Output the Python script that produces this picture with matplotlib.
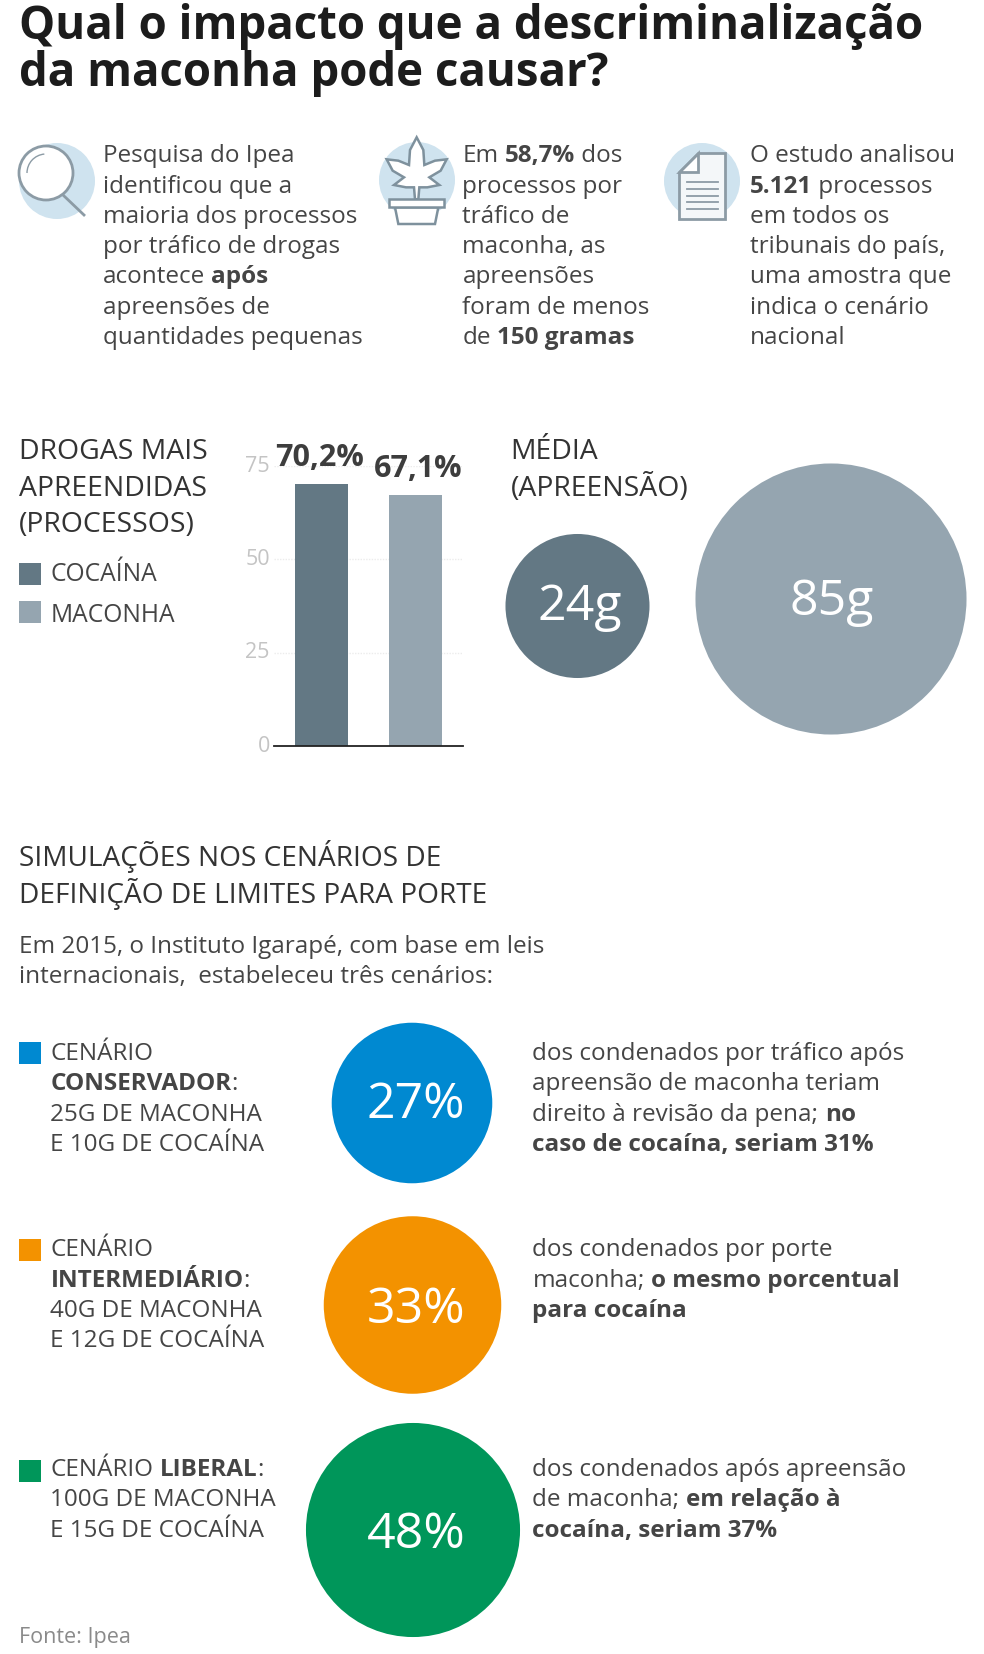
import matplotlib
matplotlib.use("Agg")
from matplotlib import pyplot as plt
from matplotlib.patches import Circle, Polygon, Rectangle, Arc
import numpy as np

plt.rcParams['font.family'] = ['Open Sans', 'DejaVu Sans']

titulo = ["Qual o impacto que a descriminalização", "da maconha pode causar?"]

intro_1 = ["Pesquisa do Ipea", "identificou que a", "maioria dos processos", "por tráfico de drogas",
           "acontece **após**", "apreensões de", "quantidades pequenas"]
intro_2 = ["Em **58,7%** dos", "processos por", "tráfico de", "maconha, as", "apreensões",
           "foram de menos", "de **150 gramas**"]
intro_3 = ["O estudo analisou", "**5.121** processos", "em todos os", "tribunais do país,",
           "uma amostra que", "indica o cenário", "nacional"]

drogas = ["COCAÍNA", "MACONHA"]
processos = [70.2, 67.1]
processos_txt = ["70,2%", "67,1%"]
ticks_y = [0, 25, 50, 75]
media_g = [24, 85]
media_txt = ["24g", "85g"]

subtitulo = ["SIMULAÇÕES NOS CENÁRIOS DE", "DEFINIÇÃO DE LIMITES PARA PORTE"]
paragrafo = ["Em 2015, o Instituto Igarapé, com base em leis", "internacionais,  estabeleceu três cenários:"]

cenario_pct = [27, 33, 48]
cenario_txt = ["27%", "33%", "48%"]
cenario_esq = [
    ["CENÁRIO", "**CONSERVADOR**:", "25G DE MACONHA", "E 10G DE COCAÍNA"],
    ["CENÁRIO", "**INTERMEDIÁRIO**:", "40G DE MACONHA", "E 12G DE COCAÍNA"],
    ["CENÁRIO **LIBERAL**:", "100G DE MACONHA", "E 15G DE COCAÍNA"],
]
cenario_dir = [
    ["dos condenados por tráfico após", "apreensão de maconha teriam", "direito à revisão da pena; **no**",
     "**caso de cocaína, seriam 31%**"],
    ["dos condenados por porte", "maconha; **o mesmo porcentual**", "**para cocaína**"],
    ["dos condenados após apreensão", "de maconha; **em relação à**", "**cocaína, seriam 37%**"],
]

ESCURO = "#637884"
CLARO = "#95a5b0"
AZUL_CLARO = "#cfe3ef"
ICONE = "#8c9ba5"
TEXTO = "#454545"
CORES = ["#0089d1", "#f39200", "#00965a"]

fig = plt.figure(figsize=(9.84, 16.54), dpi=100, facecolor="white")
ax = fig.add_axes([0, 0, 1, 1])
ax.set_xlim(0, 984)
ax.set_ylim(1654, 0)
ax.axis("off")
renderer = fig.canvas.get_renderer()


def largura(s, size, weight):
    t = ax.text(0, 0, s, fontsize=size, fontweight=weight)
    w = t.get_window_extent(renderer).width
    t.remove()
    return w


def rich(x, y, linha, size, color=TEXTO):
    # **negrito** inside a line, pieces placed one after the other
    espaco = largura("a a", size, "normal") - largura("aa", size, "normal")
    for i, parte in enumerate(linha.split("**")):
        if not parte:
            continue
        peso = "bold" if i % 2 else "normal"
        limpo = parte.rstrip(" ")
        ax.text(x, y, limpo, fontsize=size, fontweight=peso, color=color, va="baseline", ha="left")
        x += largura(limpo + "|", size, peso) - largura("|", size, peso)
        if parte != limpo:
            x += espaco


def bloco(x, ys, linhas, size, color=TEXTO):
    for y, linha in zip(ys, linhas):
        rich(x, y, linha, size, color)


# titulo
for y, linha in zip([39, 86], titulo):
    ax.text(19, y, linha, fontsize=32.85, fontweight="bold", color="#1c1c1c", va="baseline")

# intro
ys_intro = np.linspace(162.3, 344, 7)
bloco(103, ys_intro, intro_1, 17.5)
bloco(462.5, ys_intro, intro_2, 17.5)
bloco(750, ys_intro, intro_3, 17.5)

# lupa
ax.add_patch(Circle((57, 181), 38, fc=AZUL_CLARO, ec="none"))
ax.add_patch(Circle((46, 173), 27, fc="white", ec=ICONE, lw=2))
ax.plot([63, 84], [195, 215], color=ICONE, lw=2)
ax.add_patch(Arc((46, 173), 38, 38, theta1=180, theta2=265, color=ICONE, lw=1))

# planta
ax.add_patch(Circle((417, 180), 38, fc=AZUL_CLARO, ec="none"))
folha = np.array([(140, 22), (160, 60), (163, 105), (195, 92), (230, 88), (212, 122), (178, 142), (208, 165),
                  (172, 172), (148, 172), (145, 208), (135, 208), (132, 172), (108, 172), (72, 165), (102, 142),
                  (68, 122), (50, 88), (85, 92), (117, 105), (120, 60)])
ax.add_patch(Polygon(folha / 3 + [370, 130], closed=True, fc="white", ec="#7e919d", lw=1.8))
vaso = np.array([(75, 232), (205, 232), (195, 282), (85, 282)])
ax.add_patch(Polygon(vaso / 3 + [370, 130], closed=True, fc="white", ec="#7e919d", lw=1.8))
ax.add_patch(Rectangle((370 + 58 / 3, 130 + 208 / 3), 164 / 3, 8, fc="white", ec="#7e919d", lw=1.8))

# documento
ax.add_patch(Circle((702, 181), 38, fc=AZUL_CLARO, ec="none"))
doc = np.array([(130, 70), (210, 70), (210, 268), (72, 268), (72, 125)])
ax.add_patch(Polygon(doc / 3 + [655, 130], closed=True, fc="#f4f7f9", ec=ICONE, lw=2))
dobra = np.array([(130, 70), (130, 125), (72, 125)])
ax.add_patch(Polygon(dobra / 3 + [655, 130], closed=True, fc="white", ec=ICONE, lw=2))
for yy in [157, 177, 197, 217, 237]:
    ax.plot([655 + 95 / 3, 655 + 190 / 3], [130 + yy / 3] * 2, color=ICONE, lw=1.3)

# drogas mais apreendidas
for y, linha in zip([459, 496, 532], ["DROGAS MAIS", "APREENDIDAS", "(PROCESSOS)"]):
    ax.text(19, y, linha, fontsize=20.4, color="#333333", va="baseline")
for y, nome, cor, yb in zip([563, 601], drogas, [ESCURO, CLARO], [581, 622]):
    ax.add_patch(Rectangle((19, y), 22, 22, fc=cor, ec="none"))
    ax.text(50.5, yb, nome, fontsize=17.7, color=TEXTO, va="baseline")

bar_ax = fig.add_axes([274 / 984, 1 - 746 / 1654, 189 / 984, 280 / 1654])
bar_ax.bar(range(len(processos)), processos, width=0.566, color=[ESCURO, CLARO], zorder=3)
bar_ax.set_xlim(-0.5, 1.5)
bar_ax.set_ylim(0, 75)
bar_ax.set_yticks(ticks_y)
bar_ax.set_xticks([])
bar_ax.patch.set_alpha(0)
bar_ax.tick_params(axis="y", length=0, pad=3, labelsize=15.5, labelcolor="#c4c4c4")
for lbl in bar_ax.get_yticklabels():
    lbl.set_va("center")
bar_ax.grid(axis="y", color="#ececec", lw=1, ls=(0, (1, 1)))
for s in ["top", "left", "right"]:
    bar_ax.spines[s].set_visible(False)
bar_ax.spines["bottom"].set_color("#222222")
bar_ax.spines["bottom"].set_linewidth(1.3)
bar_ax.spines["bottom"].set_zorder(4)
for i, (v, txt) in enumerate(zip(processos, processos_txt)):
    bar_ax.annotate(txt, (i, v), xytext=(2 if i else -1, 13), textcoords="offset points", ha="center",
                    va="baseline", fontsize=22, fontweight="bold", color="#3d3d3d", annotation_clip=False)

# media (apreensao): area do circulo proporcional ao valor
for y, linha in zip([459, 496], ["MÉDIA", "(APREENSÃO)"]):
    ax.text(510.5, y, linha, fontsize=20.4, color="#333333", va="baseline")
K_MEDIA = (2 * 0.72 * 14.7) ** 2
ax.scatter([577.5, 831], [606, 599], s=np.array(media_g) * K_MEDIA, c=[ESCURO, CLARO], linewidths=0, zorder=2)
for x, y, txt in zip([580, 832], [620, 615], media_txt):
    ax.text(x, y, txt, fontsize=36, color="white", ha="center", va="baseline", zorder=3)

# simulacoes
for y, linha in zip([866, 903], subtitulo):
    ax.text(19, y, linha, fontsize=20.2, color="#333333", va="baseline")
for y, linha in zip([953, 983], paragrafo):
    ax.text(19, y, linha, fontsize=17.5, color=TEXTO, va="baseline")

K_CENARIO = (2 * 0.72 * 15.45) ** 2
ax.scatter([412, 412.5, 413], [1103, 1305, 1530], s=np.array(cenario_pct) * K_CENARIO, c=CORES,
           linewidths=0, zorder=2)
for y, txt in zip([1118, 1323, 1548], cenario_txt):
    ax.text(416, y, txt, fontsize=36, color="white", ha="center", va="baseline", zorder=3)

ys_linhas = [[1060, 1090, 1121, 1151], [1256, 1287, 1317, 1347], [1476, 1506, 1537]]
ys_quad = [1042, 1239, 1460]
for i in range(3):
    ax.add_patch(Rectangle((19, ys_quad[i]), 22, 22, fc=CORES[i], ec="none"))
    bloco(50.5, ys_linhas[i], cenario_esq[i], 17.5)
    bloco(532.5, ys_linhas[i], cenario_dir[i], 17.5)

ax.text(19, 1643, "Fonte: Ipea", fontsize=15.5, color="#8a8a8a", va="baseline")

fig.savefig("out.png", dpi=100, facecolor="white")
